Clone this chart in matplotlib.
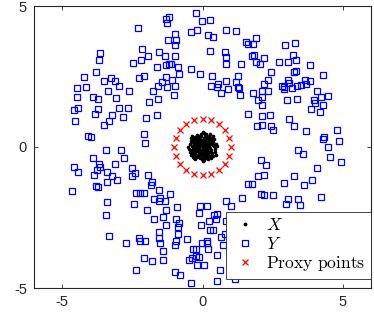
import matplotlib
matplotlib.use("Agg")
import matplotlib.pyplot as plt

plt.rcParams['mathtext.fontset'] = 'cm'
plt.rcParams['font.family'] = ['Liberation Sans', 'DejaVu Sans']

# X: sample cluster near origin
x_pts = [
(0.02,0.05),(-0.11,0.12),(0.15,-0.08),(-0.20,-0.15),(0.08,0.22),(-0.05,-0.25),(0.27,0.10),(-0.30,0.04),(0.12,-0.30),(-0.16,0.28),
(0.35,-0.20),(-0.38,-0.22),(0.22,0.33),(-0.25,0.35),(0.04,-0.12),(-0.08,0.02),(0.18,0.06),(-0.14,-0.05),(0.06,0.14),(0.00,-0.04),
(0.31,0.26),(-0.33,-0.34),(0.40,0.02),(-0.44,0.10),(0.10,0.42),(-0.02,-0.44),(0.24,-0.18),(-0.21,0.19),(0.13,0.16),(-0.10,-0.17),
(0.45,-0.08),(-0.47,-0.06),(0.05,0.48),(-0.06,0.47),(0.19,-0.43),(-0.29,-0.40),(0.36,0.38),(-0.40,0.32),(0.09,-0.21),(-0.19,0.07),
(0.28,-0.02),(-0.27,-0.09),(0.16,0.25),(-0.07,0.26),(0.03,-0.33),(-0.12,-0.31),(0.21,-0.26),(-0.24,0.24),(0.33,0.14),(-0.34,0.17),
(0.07,0.07),(-0.03,0.10),(0.11,-0.02),(-0.09,-0.09),(0.14,0.03),(-0.17,0.01),(0.01,0.18),(0.05,-0.19),(-0.22,-0.27),(0.26,0.20),
(0.48,0.12),(-0.50,0.00),(0.00,0.52),(0.02,-0.50),(0.38,-0.33),(-0.36,0.40),(0.42,0.28),(-0.41,-0.30),(0.17,-0.37),(-0.15,0.39),
(0.23,0.03),(-0.23,-0.02),(0.09,0.29),(-0.04,-0.20),(0.30,-0.11),(-0.31,0.10),(0.13,-0.14),(-0.13,0.15),(0.19,0.12),(-0.18,-0.12),
(0.04,0.33),(-0.01,-0.29),(0.25,-0.33),(-0.26,0.30),(0.37,0.06),(-0.37,-0.12),(0.11,0.37),(-0.10,-0.39),(0.29,0.31),(-0.30,-0.28),
(0.06,-0.06),(-0.06,0.06),(0.16,-0.11),(-0.12,0.21),(0.20,-0.05),(-0.25,0.13),(0.08,-0.40),(-0.18,-0.34),(0.34,-0.27),(-0.42,0.20),
(0.43,-0.18),(-0.45,-0.16),(0.14,0.45),(-0.20,0.44),(0.24,0.40),(-0.09,0.35),(0.32,-0.40),(-0.34,0.27),(0.12,0.09),(-0.02,0.14),
(0.27,0.15),(-0.28,-0.18),(0.01,-0.10),(0.18,-0.20),(-0.14,-0.22),(0.22,0.22),(-0.21,0.09),(0.10,-0.26),(-0.07,-0.13),(0.03,0.24),
(0.39,0.18),(-0.39,0.03),(0.15,0.34),(-0.27,-0.44),(0.47,-0.30),(-0.05,0.40),(0.28,0.45),(-0.33,-0.04),(0.06,-0.45),(0.50,0.05),
]
X_x = [p[0] for p in x_pts]
X_y = [p[1] for p in x_pts]

# Y: scattered annulus points
y_pts = [
(-2.29,4.22),(-3.64,3.35),(-3.67,3.08),(-2.15,3.49),(-2.18,3.08),(-1.95,3.21),(-2.47,2.98),(-3.79,2.65),(-4.21,2.49),(-3.49,2.35),
(-3.27,2.45),(-3.10,2.35),(-2.97,2.17),(-2.26,2.45),(-2.07,2.51),(-4.46,2.10),(-4.16,2.12),(-3.37,1.98),(-2.60,1.98),(-4.46,1.76),
(-3.89,1.76),(-3.72,1.70),(-3.09,1.73),
(-0.23,4.76),(-1.30,4.55),(-1.21,4.62),(-1.25,4.39),(-0.02,4.46),(0.26,4.50),(-0.41,4.07),(-0.20,4.16),(-0.98,4.02),(0.19,3.98),
(0.37,3.91),(-1.23,3.81),(-0.93,3.80),(-0.98,3.61),(0.85,4.14),(1.19,4.13),(1.90,3.88),(1.54,3.73),(1.63,3.67),(1.80,3.67),
(-1.55,3.38),(-1.35,3.21),(-0.99,3.21),(0.26,3.42),(0.81,3.36),(0.84,3.20),(0.83,2.96),(1.36,2.94),(1.75,3.23),(1.85,3.28),
(1.90,3.02),(2.06,2.96),(2.18,3.14),(-1.62,2.82),(-1.30,2.91),(-1.11,2.94),(-1.20,2.93),(-0.89,2.82),(-0.83,2.60),(-0.40,2.77),
(-0.08,2.60),(0.33,2.53),(1.28,2.52),(1.19,2.32),(0.82,2.34),(0.55,2.25),(0.30,2.16),(0.51,2.11),(0.91,2.07),(0.66,1.90),
(1.26,2.12),(1.31,2.10),(1.33,1.86),(-1.29,2.49),(-1.08,2.36),(-1.44,2.32),(-1.58,2.16),(-1.25,2.11),(-0.98,2.17),(-1.78,1.98),
(-1.02,1.83),(-1.58,1.71),(1.81,1.92),(2.13,1.99),(2.11,1.79),(2.18,2.22),
(2.93,3.61),(3.30,3.70),(2.71,3.03),(3.03,3.03),(3.21,3.27),(3.32,3.10),(3.84,2.92),(2.44,2.66),(3.25,2.66),(3.34,2.71),
(4.28,2.56),(2.33,2.39),(3.03,2.37),(3.09,2.26),(3.65,2.38),(3.83,2.35),(3.52,2.20),(3.68,2.22),(3.36,2.17),(2.82,2.17),
(2.91,2.11),(2.89,2.04),(3.18,2.09),(2.34,1.97),(4.06,1.99),(4.22,1.79),(4.48,1.82),(3.00,1.68),(3.35,1.70),(3.98,1.68),
(-4.56,1.30),(-4.45,1.38),(-3.71,1.36),(-3.82,1.17),(-2.97,1.39),(-2.65,1.37),(-3.22,1.12),(-2.83,1.08),(-3.34,0.91),(-3.50,0.78),
(-4.53,0.91),(-2.00,1.04),(-1.90,1.61),(-2.10,0.47),(-2.06,0.15),(-4.07,0.39),(-3.96,0.36),(-3.42,-0.12),(-2.90,-0.11),(-2.78,-0.38),
(-3.89,-0.40),(-4.57,-0.72),(-4.42,-0.87),(-3.68,-0.62),(-3.66,-0.72),(-3.75,-0.81),(-3.85,-0.99),(-3.13,-0.62),(-3.40,-0.89),(-3.22,-1.03),
(-3.05,-1.18),(-3.39,-1.23),(-2.51,-0.76),(-2.40,-0.91),(-2.52,-1.02),(-1.93,-1.00),(-3.81,-1.39),(-3.72,-1.42),(-4.66,-1.57),(-2.36,-1.63),
(-2.21,-1.64),(-2.09,-1.64),
(-3.40,-1.96),(-2.45,-2.02),(-1.98,-2.25),(-3.44,-2.42),(-3.33,-3.16),(-2.72,-3.39),(-2.25,-3.23),(-2.21,-3.32),(-2.04,-3.34),(-2.07,-3.95),
(-2.36,-4.35),
(1.99,1.65),(2.11,1.50),(-1.63,1.14),(1.61,1.18),(2.11,1.11),(1.93,0.76),(2.13,0.79),(2.08,-0.46),(2.27,-0.63),(1.99,-1.03),
(2.20,-0.99),(-1.80,-1.24),(-1.83,-1.33),(-1.55,-1.51),(-1.17,-1.65),(1.63,-1.31),(1.75,-1.31),(2.08,-1.66),
(4.00,1.56),(3.85,1.36),(4.28,1.50),(4.18,1.24),(2.41,1.15),(3.07,1.01),(2.44,0.76),(2.52,0.60),(3.25,0.75),(3.69,0.57),
(4.80,0.62),(4.33,0.35),(4.29,0.27),(4.85,0.23),(4.47,-0.01),(3.39,-0.10),(3.58,-0.26),(4.54,-0.34),(4.94,-0.54),(4.09,-0.76),
(3.25,-1.03),(3.91,-1.18),(2.91,-1.29),(3.60,-1.33),
(2.19,-1.69),(2.51,-1.69),(3.03,-1.84),(2.97,-2.01),(3.39,-1.83),(3.46,-2.07),(4.22,-1.78),
(-1.72,-1.84),(-1.50,-1.80),(-1.56,-1.90),(-1.33,-1.90),(-0.91,-2.14),(-1.29,-2.22),(-0.08,-2.08),(0.16,-2.10),(-0.13,-2.35),(0.83,-1.92),
(1.02,-2.10),(1.40,-1.80),(0.50,-2.38),(0.42,-2.42),(0.48,-2.57),(0.24,-2.61),(0.82,-2.64),(-1.72,-2.55),(-1.41,-2.49),(-0.94,-2.56),
(-0.84,-2.70),(-0.86,-2.82),(-1.29,-2.78),(-0.07,-2.78),(0.27,-2.95),(0.37,-2.95),(0.81,-3.08),(0.65,-3.20),(-0.86,-3.08),(-1.54,-3.01),
(-1.56,-3.23),(-1.51,-3.40),(-0.93,-3.34),(-0.99,-3.48),(-0.55,-3.26),(0.16,-3.32),(0.16,-3.42),(-0.02,-3.42),(0.21,-3.63),(0.72,-3.48),
(-0.33,-3.61),(-0.22,-3.63),(-1.39,-3.68),(-1.80,-4.05),(-1.41,-4.01),(-0.49,-3.99),(-0.39,-3.93),(-0.22,-3.87),(-0.11,-3.91),(-0.20,-4.18),
(0.05,-4.20),(-0.99,-4.44),(-0.79,-4.53),(-0.41,-4.84),(0.52,-3.84),(0.63,-4.37),(0.51,-4.76),(1.14,-4.67),
]
Y_x = [p[0] for p in y_pts]
Y_y = [p[1] for p in y_pts]

# Proxy points on unit circle (20 points)
proxy_x = [1.000, 0.951, 0.809, 0.588, 0.309, 0.000, -0.309, -0.588, -0.809, -0.951,
           -1.000, -0.951, -0.809, -0.588, -0.309, 0.000, 0.309, 0.588, 0.809, 0.951]
proxy_y = [0.000, 0.309, 0.588, 0.809, 0.951, 1.000, 0.951, 0.809, 0.588, 0.309,
           0.000, -0.309, -0.588, -0.809, -0.951, -1.000, -0.951, -0.809, -0.588, -0.309]

labels = ['$X$', '$Y$', r'$\mathrm{Proxy\ points}$']
xticks = [-5, 0, 5]
yticks = [-5, 0, 5]

fig = plt.figure(figsize=(3.74, 3.22), dpi=100)
ax = fig.add_axes([34/374, 34/322, 337/374, 282/322])

ax.plot(X_x, X_y, '.', color='black', markersize=3.2, label=labels[0], linestyle='none')
ax.plot(Y_x, Y_y, 's', color='blue', markersize=3.8, markerfacecolor='none',
        markeredgewidth=0.9, linestyle='none', label=labels[1])
ax.plot(proxy_x, proxy_y, 'x', color='red', markersize=4.3, markeredgewidth=0.9,
        linestyle='none', label=labels[2])

ax.set_xlim(-6, 6)
ax.set_ylim(-5, 5)
ax.set_xticks(xticks)
ax.set_yticks(yticks)
ax.set_xticklabels([str(t) for t in xticks])
ax.set_yticklabels([str(t) for t in yticks])
ax.tick_params(direction='in', length=3, width=0.6, top=True, right=True,
               labelsize=10.5, colors='#262626', pad=5)
for s in ax.spines.values():
    s.set_color('#262626')
    s.set_linewidth(0.8)

leg = ax.legend(loc='lower right', bbox_to_anchor=(1.0, 0.032), borderaxespad=0,
                fontsize=12.6, frameon=True, fancybox=False, edgecolor='#262626',
                framealpha=1, handlelength=1.5, handletextpad=0.45,
                borderpad=0.32, labelspacing=0.15, markerscale=1.1)
leg.get_frame().set_linewidth(0.6)

fig.savefig('out.png', dpi=100)
